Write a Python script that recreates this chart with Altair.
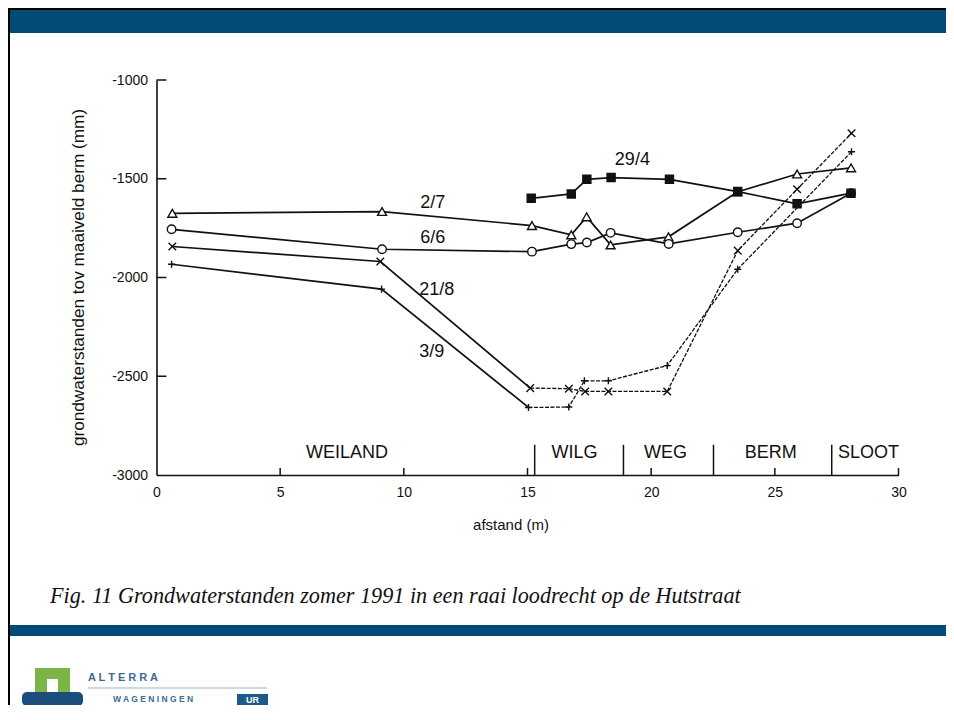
import altair as alt
import pandas as pd

# ---------------- data ----------------
s27_x = [0.64, 9.12, 15.18, 16.77, 17.39, 18.36, 20.70, 23.48, 25.90, 28.08]
s27_y = [-1675, -1666, -1737, -1784, -1693, -1835, -1794, -1567, -1476, -1445]

s66_x = [0.61, 9.12, 15.18, 16.77, 17.40, 18.36, 20.71, 23.50, 25.90, 28.08]
s66_y = [-1756, -1857, -1869, -1831, -1823, -1774, -1830, -1771, -1725, -1573]

s294_x = [15.15, 16.77, 17.40, 18.38, 20.74, 23.50, 25.90, 28.08]
s294_y = [-1599, -1577, -1503, -1494, -1503, -1565, -1627, -1573]

s218_x = [0.64, 9.05, 15.11, 16.67, 17.33, 18.27, 20.65, 23.50, 25.90, 28.10]
s218_y = [-1843, -1919, -2560, -2563, -2577, -2577, -2577, -1864, -1553, -1270]

s39_x = [0.61, 9.10, 15.04, 16.67, 17.30, 18.27, 20.65, 23.50, 28.10]
s39_y = [-1933, -2059, -2658, -2656, -2523, -2523, -2446, -1958, -1363]

series_names = ["2/7", "6/6", "29/4", "21/8", "3/9"]
label_x = [11.17, 11.17, 19.24, 11.33, 11.13]
label_y = [-1622, -1800, -1405, -2063, -2376]

zone_names = ["WEILAND", "WILG", "WEG", "BERM", "SLOOT"]
zone_x = [7.7, 16.9, 20.58, 24.83, 28.79]
zone_y = [-2887, -2887, -2887, -2887, -2887]
divider_x = [15.29, 18.88, 22.52, 27.3]
divider_top = -2847

x_ticks = [0, 5, 10, 15, 20, 25, 30]
y_ticks = [-3000, -2500, -2000, -1500, -1000]

caption = "Fig. 11 Grondwaterstanden zomer 1991 in een raai loodrecht op de Hutstraat"

# ---------------- tables ----------------
rows = []
for name, xs, ys, dash_from in [
    ("2/7", s27_x, s27_y, None),
    ("6/6", s66_x, s66_y, None),
    ("29/4", s294_x, s294_y, None),
    ("21/8", s218_x, s218_y, 2),
    ("3/9", s39_x, s39_y, 2),
]:
    for i, (x, y) in enumerate(zip(xs, ys)):
        rows.append(dict(series=name, x=x, y=y, i=i,
                         solid=(dash_from is None or i <= dash_from),
                         dashed=(dash_from is not None and i >= dash_from)))
df = pd.DataFrame(rows)

labels_df = pd.DataFrame(dict(label=series_names, x=label_x, y=label_y))
zones_df = pd.DataFrame(dict(name=zone_names, x=zone_x, y=zone_y))
div_df = pd.DataFrame(dict(x=divider_x, y=[-3000] * len(divider_x), y2=[divider_top] * len(divider_x)))
xt_df = pd.DataFrame(dict(x=x_ticks[1:], y=[-3000] * 6, y2=[-2965] * 6))
yt_df = pd.DataFrame(dict(y=y_ticks[1:], x=[0] * 4, x2=[0.4] * 4))
one = pd.DataFrame({"k": [0]})

INK = "#111111"
FONT = "Liberation Sans"

xs = alt.Scale(domain=[0, 30], nice=False, zero=False)
ys = alt.Scale(domain=[-3000, -1000], nice=False, zero=False)

X = alt.X("x:Q", scale=xs, axis=alt.Axis(
    values=x_ticks, labelExpr="toString(datum.value)", ticks=False, grid=False,
    labelFlush=False, domainColor=INK, domainWidth=1.6,
    labelFont=FONT, labelFontSize=14, labelColor=INK, labelPadding=10,
    title="afstand (m)", titleFont=FONT, titleFontSize=15, titleFontWeight="normal",
    titleColor=INK, titleX=354, titleY=49, titleBaseline="middle", titleAlign="center"))
Y = alt.Y("y:Q", scale=ys, axis=alt.Axis(
    values=y_ticks, labelExpr="toString(datum.value)", ticks=False, grid=False,
    labelFlush=False, domainColor=INK, domainWidth=1.6,
    labelFont=FONT, labelFontSize=14, labelColor=INK, labelPadding=9,
    title="grondwaterstanden tov maaiveld berm (mm)", titleFont=FONT, titleFontSize=17.2,
    titleFontWeight="normal", titleColor=INK, titleX=-78, titleY=197,
    titleAngle=-90, titleBaseline="middle", titleAlign="center"))

base = alt.Chart(df)

solid = base.transform_filter("datum.solid").mark_line(color=INK, strokeWidth=1.7).encode(
    x=X, y=Y, detail="series:N", order="i:Q")
dashed = base.transform_filter("datum.dashed").mark_line(
    color=INK, strokeWidth=1.3, strokeDash=[4, 1.5]).encode(
    x="x:Q", y="y:Q", detail="series:N", order="i:Q")

shape_range = ["triangle-up", "circle", "square",
               "M-1,-1L1,1M-1,1L1,-1", "M-1,0L1,0M0,-1L0,1"]
fill_range = ["white", "white", INK, "transparent", "transparent"]
size_range = [80, 50, 120, 90, 90]
points = base.mark_point(filled=True, stroke=INK, strokeWidth=1.4, opacity=1).encode(
    x="x:Q", y="y:Q",
    shape=alt.Shape("series:N", scale=alt.Scale(domain=series_names, range=shape_range), legend=None),
    fill=alt.Fill("series:N", scale=alt.Scale(domain=series_names, range=fill_range), legend=None),
    size=alt.Size("series:N", scale=alt.Scale(domain=series_names, range=size_range), legend=None),
)

labels = alt.Chart(labels_df).mark_text(font=FONT, fontSize=18, color=INK).encode(
    x="x:Q", y="y:Q", text="label:N")
zones = alt.Chart(zones_df).mark_text(font=FONT, fontSize=18, color=INK).encode(
    x="x:Q", y="y:Q", text="name:N")
dividers = alt.Chart(div_df).mark_rule(color=INK, strokeWidth=1.5).encode(
    x="x:Q", y="y:Q", y2="y2:Q")
xticks = alt.Chart(xt_df).mark_rule(color=INK, strokeWidth=1.5).encode(
    x="x:Q", y="y:Q", y2="y2:Q")
yticks = alt.Chart(yt_df).mark_rule(color=INK, strokeWidth=1.5).encode(
    y="y:Q", x="x:Q", x2="x2:Q")


def rect(x, x2, y, y2, color, **kw):
    return alt.Chart(one).mark_rect(color=color, **kw).encode(
        x=alt.value(x), x2=alt.value(x2), y=alt.value(y), y2=alt.value(y2))


def text(t, x, y, **kw):
    return alt.Chart(one).mark_text(**kw).encode(
        x=alt.value(x), y=alt.value(y), text=alt.value(t))


BLUE = "#014b77"
deco = [
    rect(-148.5, 800, -72, -70, "#000000"),
    rect(-148.5, 800, -70, -47, BLUE),
    rect(-148.5, -146.5, -72, 640, "#000000"),
    rect(-146.5, 800, 545, 556, BLUE),
    text(caption, -106.5, 516, font="Liberation Serif", fontStyle="italic",
         fontSize=22.2, color=INK, align="left", baseline="middle"),
    # logo
    rect(-121.5, -86.5, 588, 613, "#7db446"),
    rect(-109.5, -98.5, 599, 613, "white"),
    rect(-134.5, -73.5, 612, 626, "#1d4d7c", cornerRadius=5),
    text("A L T E R R A", -68.5, 598, font=FONT, fontSize=11, fontWeight="bold",
         color="#3c6c93", align="left", baseline="middle"),
    rect(-68.5, 110.5, 607.5, 608.5, "#9db2c6"),
    text("W A G E N I N G E N", -43.5, 619, font=FONT, fontSize=8.5, fontWeight="bold",
         color="#3c6c93", align="left", baseline="middle"),
    rect(80.5, 111.5, 614, 625, "#1d5a8c"),
    text("UR", 96, 619.5, font=FONT, fontSize=9, fontWeight="bold",
         color="white", align="center", baseline="middle"),
]

chart = alt.layer(
    solid, dashed, dividers, xticks, yticks, points, labels, zones, *deco
).properties(
    width=742, height=395,
    padding={"left": 148.5, "top": 72, "right": 47.5, "bottom": 230},
    autosize=alt.AutoSizeParams(type="none"),
    background="white",
).configure_view(stroke=None)

chart.save("out.html", embed_options={"renderer": "svg", "actions": False})
